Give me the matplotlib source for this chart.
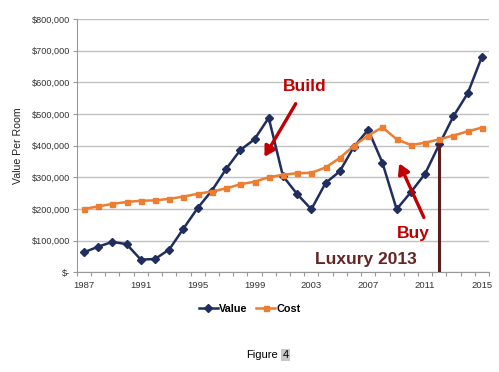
import matplotlib
matplotlib.use("Agg")
import matplotlib.pyplot as plt

years = list(range(1987, 2016))
value = [63, 81, 96, 89, 40, 42, 72, 138, 203, 258, 326, 386, 420, 488,
         304, 247, 199, 282, 319, 397, 450, 346, 199, 253, 311, 404, 493, 565, 681]
cost = [200, 208, 216, 222, 226, 227, 232, 239, 248, 255, 265, 278, 286, 300,
        308, 313, 314, 331, 361, 400, 432, 458, 420, 402, 409, 420, 432, 445, 457]
value = [v * 1000 for v in value]
cost = [c * 1000 for c in cost]

ytick_values = [0, 100000, 200000, 300000, 400000, 500000, 600000, 700000, 800000]
ytick_labels = ['$-', '$100,000', '$200,000', '$300,000', '$400,000',
                '$500,000', '$600,000', '$700,000', '$800,000']
xtick_years = [1987, 1991, 1995, 1999, 2003, 2007, 2011, 2015]
luxury_year = 2012

plt.rcParams['font.family'] = ['Liberation Sans', 'DejaVu Sans']

fig = plt.figure(figsize=(4.99, 3.72), dpi=100)
ax = fig.add_axes([0.154, 0.268, 0.826, 0.681])

ax.plot(years, value, color='#1f2d5f', lw=1.8, marker='D', ms=3.8, label='Value', zorder=3)
ax.plot(years, cost, color='#ed7d31', lw=1.8, marker='s', ms=3.6, label='Cost', zorder=3)

# marker line for the luxury year
ax.vlines(luxury_year, 0, value[years.index(luxury_year)], color='#5b1d1d', lw=2.2, zorder=4)

ax.set_xlim(1986.5, 2015.5)
ax.set_ylim(0, 800000)
ax.set_yticks(ytick_values)
ax.set_yticklabels(ytick_labels, fontsize=6.6, color='#333333')
ax.set_xticks([y - 0.5 for y in years] + [2015.5])
ax.set_xticklabels([])
ax.set_xticks(xtick_years, minor=True)
ax.set_xticklabels([str(y) for y in xtick_years], minor=True, fontsize=6.8, color='#333333')
ax.tick_params(axis='x', which='major', length=3, color='#999999')
ax.tick_params(axis='x', which='minor', length=0, pad=6)
ax.tick_params(axis='y', length=3, color='#999999', pad=2)
ax.grid(axis='y', color='#c0c0c0', lw=1)
ax.set_axisbelow(True)
for s in ['top', 'right']:
    ax.spines[s].set_visible(False)
for s in ['left', 'bottom']:
    ax.spines[s].set_color('#999999')
ax.set_ylabel('Value Per Room', fontsize=7.6, color='#222222', labelpad=6)

# annotations
red = '#c00000'
ax.text(2002.5, 586000, 'Build', color=red, fontsize=12.5, fontweight='bold', ha='center', va='center')
ax.annotate('', xy=(1999.6, 357000), xytext=(2002.0, 540000),
            arrowprops=dict(arrowstyle='-|>,head_length=0.6,head_width=0.35', color=red, lw=2.4))
ax.text(2010.2, 121000, 'Buy', color=red, fontsize=12.5, fontweight='bold', ha='center', va='center')
ax.annotate('', xy=(2009.1, 352000), xytext=(2011.0, 165000),
            arrowprops=dict(arrowstyle='-|>,head_length=0.6,head_width=0.35', color=red, lw=2.4))
ax.text(2006.85, 42000, 'Luxury 2013', color='#632523', fontsize=12.5, fontweight='bold',
        ha='center', va='center')

leg = ax.legend(loc='upper center', bbox_to_anchor=(0.42, -0.085), ncol=2, frameon=False,
                prop={'size': 7.8, 'weight': 'bold'}, handlelength=1.7, columnspacing=0.8,
                handletextpad=0.15)

fig.text(0.557, 0.046, 'Figure', fontsize=8, ha='right', va='center')
fig.text(0.566, 0.046, '4', fontsize=8, ha='left', va='center',
         bbox=dict(facecolor='#c8c8c8', edgecolor='none', pad=1))

fig.savefig('out.png', dpi=100)
